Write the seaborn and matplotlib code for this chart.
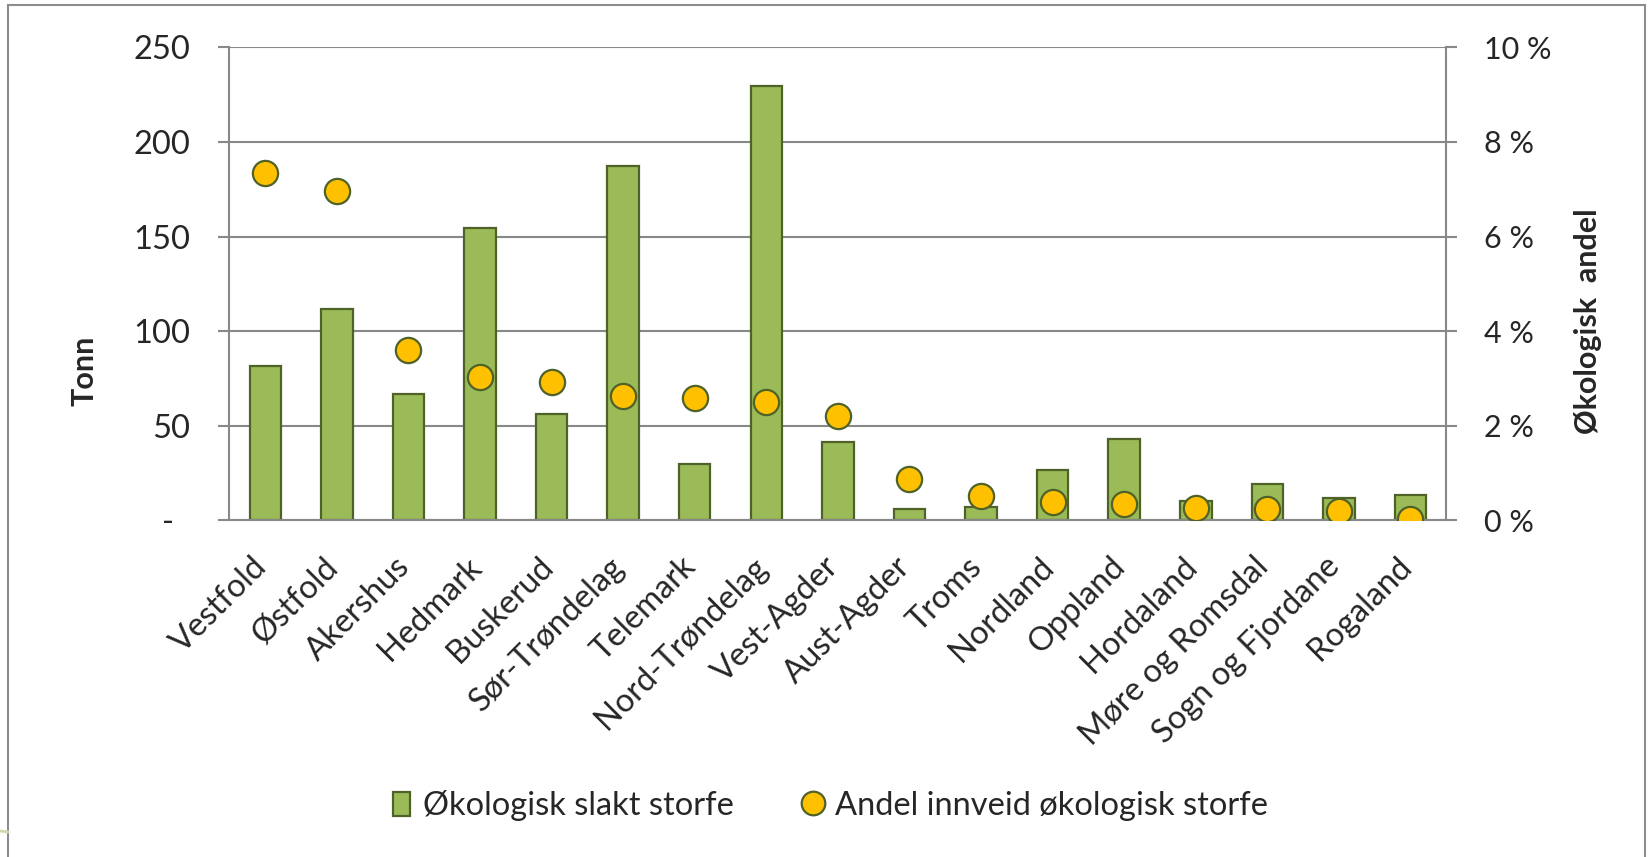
import matplotlib
matplotlib.use("Agg")
import matplotlib.pyplot as plt
import matplotlib.ticker as mticker
import matplotlib.transforms as mtransforms
from matplotlib.patches import Patch, Rectangle
from matplotlib.lines import Line2D
import numpy as np
import pandas as pd
import seaborn as sns

# Data
fylker = ["Vestfold", "Østfold", "Akershus", "Hedmark", "Buskerud", "Sør-Trøndelag",
          "Telemark", "Nord-Trøndelag", "Vest-Agder", "Aust-Agder", "Troms", "Nordland",
          "Oppland", "Hordaland", "Møre og Romsdal", "Sogn og Fjordane", "Rogaland"]
tonn = [81.5, 111.5, 66.7, 154.5, 56.4, 187.5, 29.5, 229.5, 41.2, 5.8, 7.1, 26.4,
        42.7, 10.0, 19.1, 11.6, 13.1]
andel = [7.35, 6.96, 3.60, 3.03, 2.93, 2.62, 2.58, 2.51, 2.20, 0.88, 0.52, 0.38,
         0.34, 0.25, 0.23, 0.20, 0.03]
left_ticks = [0, 50, 100, 150, 200, 250]
right_ticks = [0, 2, 4, 6, 8, 10]

green = "#9BBB59"
dark = "#4F6228"
yellow = "#FFC000"
grid = "#888888"

sns.set_style("white")
plt.rcParams['font.family'] = ['Lato', 'DejaVu Sans']

df = pd.DataFrame({"fylke": fylker, "tonn": tonn, "andel": andel})

fig = plt.figure(figsize=(16.51, 8.57), dpi=100)
ax = fig.add_axes([0.139, 0.393, 0.737, 0.5517])

sns.barplot(data=df, x="fylke", y="tonn", ax=ax, color=green, saturation=1,
            edgecolor=dark, linewidth=1.6, width=0.44)

ax2 = ax.twinx()
sns.scatterplot(x=np.arange(len(fylker)), y=df["andel"], ax=ax2, s=330, color=yellow,
                edgecolor=dark, linewidth=1.6, zorder=3)

ax.set_xlim(-0.5, len(fylker) - 0.5)
ax.set_ylim(0, 250)
ax2.set_ylim(0, 10)
ax.set_xlabel("")
ax.set_ylabel("")
ax2.set_ylabel("")

# left axis
ax.set_yticks(left_ticks)
ax.set_yticklabels(["-  " if v == 0 else str(v) for v in left_ticks])
ax.yaxis.grid(True, color=grid, lw=1.5)
ax.set_axisbelow(True)
ax.tick_params(axis='y', length=8, width=1.5, color=grid, pad=20, labelsize=23.5)

# right axis
ax2.set_yticks(right_ticks)
ax2.set_yticklabels([f"{v} %" for v in right_ticks])
ax2.tick_params(axis='y', length=8, width=1.5, color=grid, pad=19, labelsize=22)

# x axis
ax.set_xticks(np.arange(len(fylker)))
ax.set_xticklabels(fylker, rotation=45, ha='right', va='top', rotation_mode='anchor')
ax.xaxis.set_minor_locator(mticker.FixedLocator(np.arange(-0.5, len(fylker), 1)))
ax.tick_params(axis='x', which='major', length=0, pad=24, labelsize=23.5)
ax.tick_params(axis='x', which='minor', length=7, width=1.5, color=grid)
shift = mtransforms.ScaledTranslation(-0.14, 0.02, fig.dpi_scale_trans)
for lab in ax.get_xticklabels():
    lab.set_transform(lab.get_transform() + shift)

for a in (ax, ax2):
    a.spines['top'].set_visible(False)
    for s in a.spines.values():
        s.set_color(grid)
        s.set_linewidth(1.5)
ax.spines['right'].set_visible(False)
ax2.spines['left'].set_visible(False)
ax2.spines['bottom'].set_visible(False)

fig.text(84 / 1651, 1 - 371 / 857, "Tonn", rotation=90, fontweight='bold',
         fontsize=22, ha='center', va='center')
fig.text(1588 / 1651, 1 - 321 / 857, "Økologisk  andel", rotation=90, fontweight='bold',
         fontsize=22, ha='center', va='center')

handles = [Patch(facecolor=green, edgecolor=dark, linewidth=1.6),
           Line2D([], [], marker='o', ls='none', markersize=17, markerfacecolor=yellow,
                  markeredgecolor=dark, markeredgewidth=1.6)]
fig.legend(handles, ["Økologisk slakt storfe", "Andel innveid økologisk storfe"],
           loc='center', bbox_to_anchor=(0.503, 0.06), ncol=2, frameon=False,
           fontsize=23.5, handlelength=0.5, handleheight=0.75, handletextpad=0.4,
           columnspacing=2.2)

# outer frame + small green mark on the left edge
fig.add_artist(Rectangle((0.0051, -0.05), 0.9913, 1.0442, transform=fig.transFigure,
                         fill=False, edgecolor="#8c8c8c", lw=1.5))
fig.add_artist(Line2D([0, 0.005], [1 - 831 / 857, 1 - 832 / 857], transform=fig.transFigure,
                      color="#CCDAAE", lw=2))

fig.savefig("out.png", dpi=100)
